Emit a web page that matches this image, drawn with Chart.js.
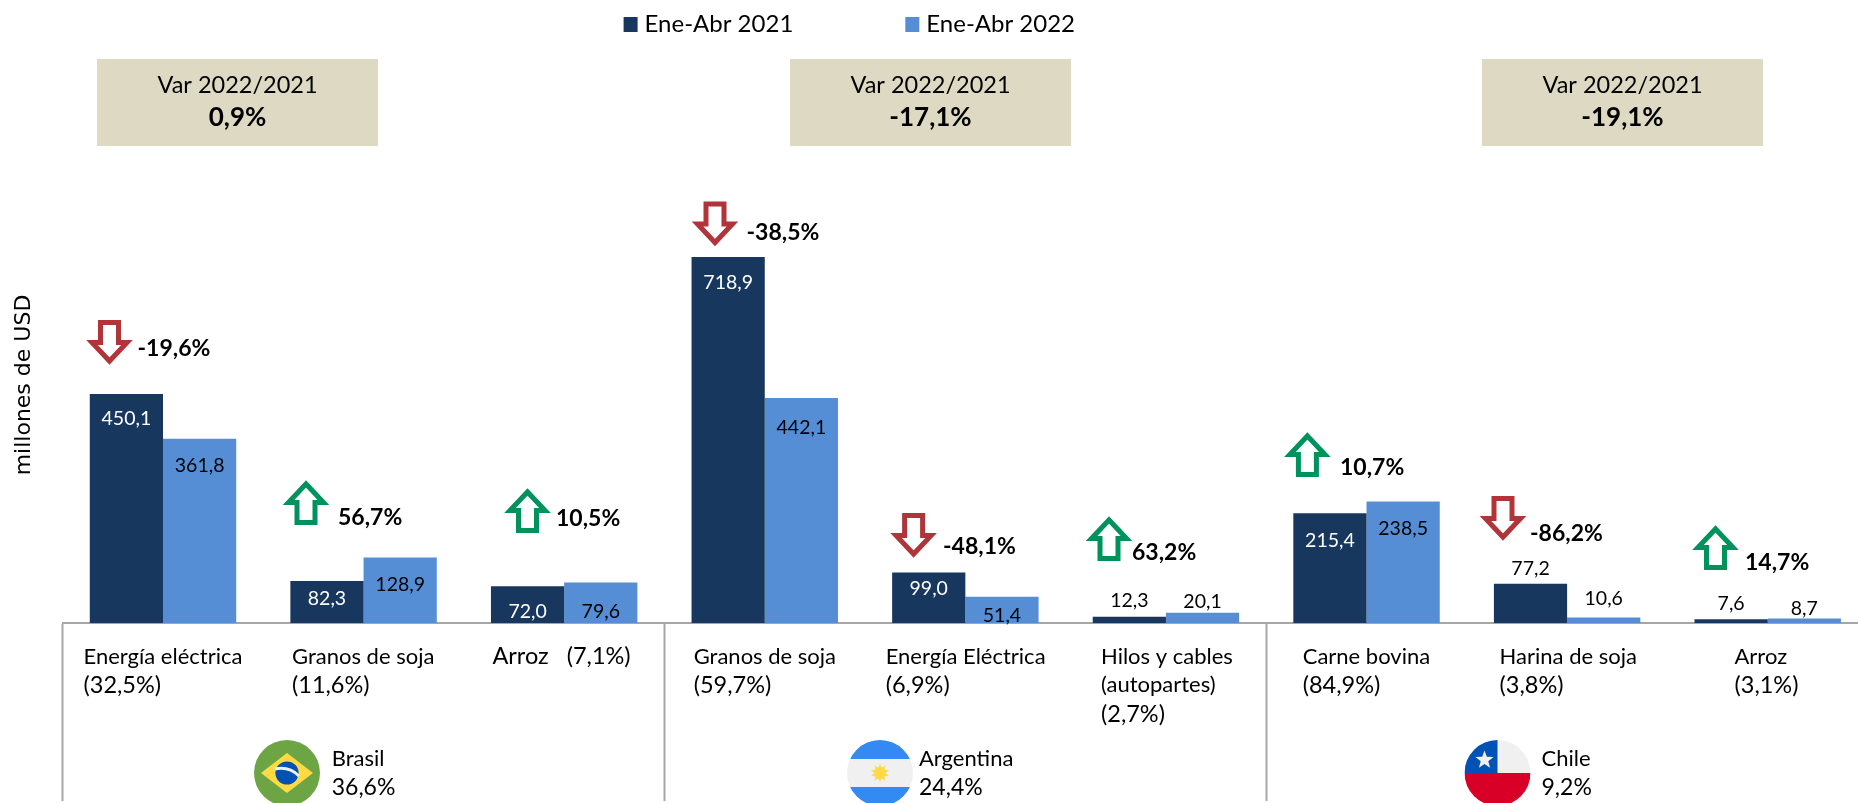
<!DOCTYPE html>
<html><head><meta charset="utf-8">
<style>html,body{margin:0;padding:0;background:#fff;overflow:hidden;width:1858px;height:803px}#w{width:1868px;height:803px}canvas{display:block}</style>
<script src="https://cdn.jsdelivr.net/npm/chart.js@4"></script>
</head><body><div id="w"><canvas id="c"></canvas></div>
<script>
const categories = [
  ["Energía eléctrica","(32,5%)"],["Granos de soja","(11,6%)"],["Arroz   (7,1%)"],
  ["Granos de soja","(59,7%)"],["Energía Eléctrica","(6,9%)"],["Hilos y cables","(autopartes)","(2,7%)"],
  ["Carne bovina","(84,9%)"],["Harina de soja","(3,8%)"],["Arroz","(3,1%)"]
];
const values2021 = [450.1,82.3,72.0,718.9,99.0,12.3,215.4,77.2,7.6];
const values2022 = [361.8,128.9,79.6,442.1,51.4,20.1,238.5,10.6,8.7];
const changes = ["-19,6%","56,7%","10,5%","-38,5%","-48,1%","63,2%","10,7%","-86,2%","14,7%"];
const countries = ["Brasil","Argentina","Chile"];
const countryShares = ["36,6%","24,4%","9,2%"];
const groupVariations = ["0,9%","-17,1%","-19,1%"];
const seriesNames = ["Ene-Abr 2021","Ene-Abr 2022"];
const boxTitle = "Var 2022/2021";
const yTitle = "millones de USD";

// layout only (pixels)
const DARK="#17375e", LIGHT="#558ed5", GRID="#a6a6a6";
const F="Lato, 'Open Sans', sans-serif";
const labelDy21=[24.5,17.5,25.5,26,16.5,-16.5,27.5,-14.5,-15];
const labelDy22=[26.5,27.5,29.5,29.5,18.5,-11.5,27.5,-18.5,-10];
const catLeft=[83.5,292,492.4,693.7,885.7,1101,1302.7,1499.6,1734.5];
const arrows=[[109.5,320],[306,480],[527.5,488],[715,201.5],[913.6,513],[1109,516],[1307.4,432],[1503,496],[1715.5,525]];
const changeText=[[137.5,349],[338,517.5],[556,518.7],[746.5,233],[943,547],[1132,553],[1340,467.7],[1530,534],[1745,562.7]];
const boxes=[97,790,1482];
const flagX=[287,880,1497.5];
const countryLeft=[331.7,919,1541.5];
const legendPad=117;

function txt(c,s,x,y,font,color,align){c.font=font;c.fillStyle=color;c.textAlign=align||'left';c.textBaseline='middle';c.fillText(s,x,y);}

function arrow(c,cx,top,up){
  const w=23.5,h=45,st=11.5,sw=5;
  const s=up?-1:1, y0=up?top+h:top;
  c.save();
  c.beginPath();
  const inset=sw/2;
  const pts=[[-st+inset,inset],[st-inset,inset],[st-inset,21+inset-1],[w-inset*2.4,21+inset-1],[0,h-inset*1.6],[-w+inset*2.4,21+inset-1],[-st+inset,21+inset-1]];
  pts.forEach((p,i)=>{const X=cx+p[0],Y=y0+s*p[1]; i?c.lineTo(X,Y):c.moveTo(X,Y);});
  c.closePath();
  c.fillStyle='#fff';c.fill();
  c.lineWidth=sw;c.lineJoin='miter';c.strokeStyle=up?'#00925c':'#b0353a';c.stroke();
  c.restore();
}
function star(c,x,y,r,col){c.beginPath();for(let i=0;i<10;i++){const a=-Math.PI/2+i*Math.PI/5,R=i%2?r*0.42:r;c.lineTo(x+R*Math.cos(a),y+R*Math.sin(a));}c.closePath();c.fillStyle=col;c.fill();}
function flag(c,i,x,y,r){
  c.save();c.beginPath();c.arc(x,y,r,0,Math.PI*2);c.clip();
  if(i===0){
    c.fillStyle='#6da544';c.fillRect(x-r,y-r,2*r,2*r);
    c.fillStyle='#ffda44';c.beginPath();c.moveTo(x,y-20);c.lineTo(x+26,y);c.lineTo(x,y+20);c.lineTo(x-26,y);c.closePath();c.fill();
    c.fillStyle='#0052b4';c.beginPath();c.arc(x,y,11.6,0,Math.PI*2);c.fill();
    c.strokeStyle='#f0f0f0';c.lineWidth=3;c.beginPath();c.moveTo(x-12,y-4);c.quadraticCurveTo(x+2,y-7,x+12,y+3);c.stroke();
  } else if(i===1){
    c.fillStyle='#f0f0f0';c.fillRect(x-r,y-r,2*r,2*r);
    c.fillStyle='#338af3';c.fillRect(x-r,y-r,2*r,r-14);c.fillRect(x-r,y+14,2*r,r-14);
    star(c,x,y,9.5,'#ffda44');
    c.save();c.translate(x,y);c.rotate(Math.PI/5);star(c,0,0,9.5,'#ffda44');c.restore();
    c.fillStyle='#ffda44';c.beginPath();c.arc(x,y,6,0,Math.PI*2);c.fill();
  } else {
    c.fillStyle='#f0f0f0';c.fillRect(x-r,y-r,2*r,r);
    c.fillStyle='#d80027';c.fillRect(x-r,y,2*r,r);
    c.fillStyle='#0052b4';c.fillRect(x-r,y-r,r,r);
    star(c,x-13,y-13,9.5,'#f0f0f0');
  }
  c.restore();
}

const decorations={
  id:'decorations',
  afterLayout(ch){
    const l=ch.legend;
    l.left=623.6+5-legendPad; l.right=3000; l.top=12.5-legendPad; l.bottom=60;
  },
  afterDatasetsDraw(ch){
    const c=ch.ctx;
    c.save();
    [values2021,values2022].forEach((vals,d)=>{
      const meta=ch.getDatasetMeta(d), dy=d?labelDy22:labelDy21;
      vals.forEach((v,i)=>{
        const b=meta.data[i], col=(d===0&&dy[i]>0)?'#fff':'#000';
        txt(c,v.toFixed(1).replace('.',','),b.x,b.y+dy[i],'19.5px '+F,col,'center');
      });
    });
    categories.forEach((lines,i)=>{
      lines.forEach((s,k)=>txt(c,s,catLeft[i],656.5+k*28.8,(s.includes('%')?'23.5px ':'22px ')+F,'#000'));
    });
    changes.forEach((s,i)=>{
      arrow(c,arrows[i][0],arrows[i][1],s[0]!=='-');
      txt(c,s,changeText[i][0],changeText[i][1],'bold 23px '+F,'#000');
    });
    boxes.forEach((bx,i)=>{
      c.fillStyle='#ddd9c3';c.fillRect(bx,59,281,87);
      txt(c,boxTitle,bx+140.5,85,'23.5px '+F,'#000','center');
      txt(c,groupVariations[i],bx+140.5,118,'bold 26px '+F,'#000','center');
    });
    countries.forEach((s,i)=>{
      flag(c,i,flagX[i],773,33);
      txt(c,s,countryLeft[i],759,'22px '+F,'#000');
      txt(c,countryShares[i],countryLeft[i],788,'23px '+F,'#000');
    });
    c.save();c.translate(24,385);c.rotate(-Math.PI/2);
    txt(c,yTitle,0,0,"22px 'DejaVu Sans'",'#000','center');c.restore();
    c.restore();
  }
};

new Chart(document.getElementById('c'),{
  type:'bar',
  data:{labels:categories,datasets:[
    {label:seriesNames[0],data:values2021,backgroundColor:DARK,borderWidth:0,barPercentage:1,categoryPercentage:0.73},
    {label:seriesNames[1],data:values2022,backgroundColor:LIGHT,borderWidth:0,barPercentage:1,categoryPercentage:0.73}
  ]},
  options:{
    responsive:true,maintainAspectRatio:false,animation:false,
    plugins:{
      tooltip:{enabled:false},
      legend:{display:true,position:'top',align:'start',maxHeight:30,
        labels:{color:'#000',font:{family:F,size:24},padding:legendPad,boxWidth:4,boxHeight:5,
          generateLabels:ch=>ch.data.datasets.map((d,i)=>({text:d.label,fillStyle:d.backgroundColor,strokeStyle:d.backgroundColor,lineWidth:10,datasetIndex:i,fontColor:'#000'}))}
      }
    },
    scales:{
      x:{type:'category',offset:true,
        ticks:{display:false,autoSkip:false},
        grid:{offset:true,drawOnChartArea:false,drawTicks:true,tickLength:178,tickWidth:2,
          tickColor:ctx=>(ctx.index%3===0?GRID:'transparent')},
        border:{display:true,color:GRID,width:2},
        afterFit:s=>{s.height=180;}
      },
      y:{min:0,max:1165,display:true,
        ticks:{display:false},grid:{display:false},border:{display:false},
        afterFit:s=>{s.width=62.7;}
      }
    }
  },
  plugins:[decorations]
});
</script></body></html>
